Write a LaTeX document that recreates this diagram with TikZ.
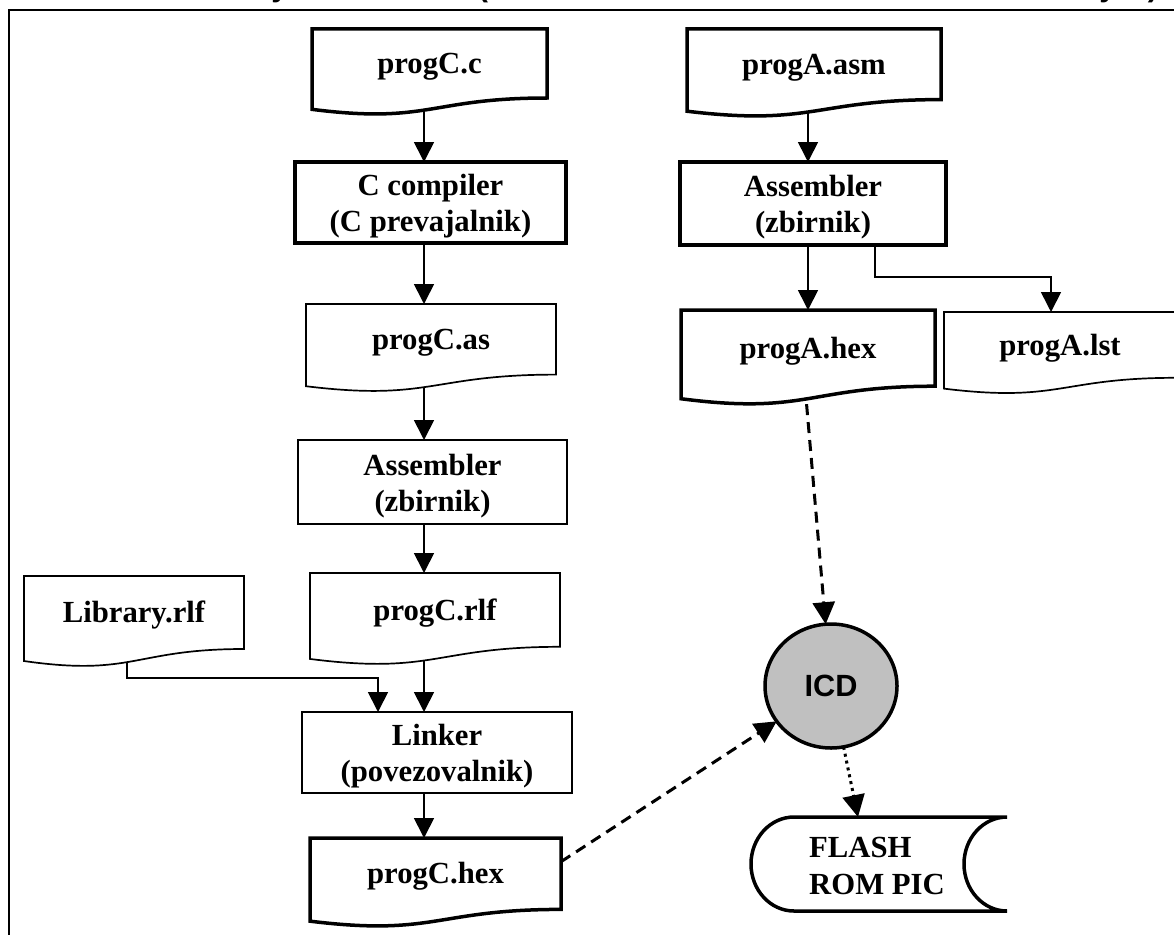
\documentclass[tikz,border=0pt]{standalone}
\usepackage{fontspec}
\setmainfont{Liberation Serif}
\newfontfamily\sansb{Liberation Sans}
\usetikzlibrary{arrows.meta,calc,shapes.geometric}
\definecolor{icdgray}{RGB}{192,192,192}
\pgfdeclarelayer{bg}
\pgfdeclarelayer{shp}
\pgfsetlayers{bg,shp,main}
\newcommand\docout[3]{%
  \draw[#2,fill=white,line join=miter] (#1.north west) -- (#1.north east) -- (#1.south east)
    .. controls (#1.south) and ($(#1.south)+(0,0.3055*#3)$) .. ($(#1.south west)+(0,0.132*#3)$) -- cycle;}
\newcommand\tallstrut{\rule{0pt}{29pt}}
\tikzset{
  lbl/.style={font=\fontsize{30.7pt}{36pt}\selectfont\bfseries},
  docnode/.style={lbl, draw=none, inner sep=0pt, outer sep=0pt, text height=20.5pt, text depth=0pt},
  proc/.style={lbl, draw, fill=white, align=center, inner sep=0pt, outer sep=0pt},
  heavy/.style={line width=3.5pt},
  light/.style={line width=1.7pt},
  arr/.style={line width=1.7pt, -{Triangle[length=20pt,width=20pt]}},
  dasharr/.style={line width=3pt, dash pattern=on 11pt off 7pt, -{Triangle[length=22pt,width=22pt]}},
  dotarr/.style={line width=3pt, dash pattern=on 3pt off 4pt, -{Triangle[length=22pt,width=22pt]}},
  frag/.style={anchor=base, inner sep=0pt, font=\sansb\bfseries\fontsize{30.7pt}{36pt}\selectfont},
}
\begin{document}
\begin{tikzpicture}[x=1pt,y=-1pt]
\useasboundingbox (0,0) rectangle (1174,934);
% frame
\draw[line width=1.8pt] (9,950) -- (9,10) -- (1190,10);
% cut-off title fragments
\node[frag] (f1) at (280,-3) {y};
\node[frag] (f2) at (483,-3) {(};
\node[frag] (f3) at (1108,-3) {y};
\node[frag] (f4) at (1153,-3) {)};

% document nodes (text part)
\node[docnode, minimum width=235pt, minimum height=69pt] (pc) at (429.5,63.5) {progC.c};
\node[docnode, minimum width=250pt, minimum height=70.6pt] (pas) at (431,339.3) {progC.as};
\node[docnode, minimum width=250pt, minimum height=73.8pt] (prlf) at (435,609.9) {progC.rlf};
\node[docnode, minimum width=220pt, minimum height=73pt] (lib) at (134,612.5) {Library.rlf};
\node[docnode, minimum width=251pt, minimum height=71.4pt] (phex) at (435.5,873.7) {progC.hex};
\node[docnode, minimum width=254pt, minimum height=70.6pt] (pasm) at (814,64.3) {progA.asm};
\node[docnode, minimum width=254pt, minimum height=76.2pt] (ahex) at (808,348.1) {progA.hex};
\node[docnode, minimum width=232pt, minimum height=65.8pt] (alst) at (1060,344.9) {progA.lst};

% process boxes
\node[proc, heavy, minimum width=271pt, minimum height=81pt] (cc) at (430.5,202.5) {\tallstrut C compiler\\(C prevajalnik)};
\node[proc, light, minimum width=269pt, minimum height=84pt] (asmL) at (432.5,482) {\tallstrut Assembler\\(zbirnik)};
\node[proc, light, minimum width=270pt, minimum height=81pt] (link) at (437,752.5) {\tallstrut Linker\\(povezovalnik)};
\node[proc, heavy, minimum width=266pt, minimum height=83pt] (asmR) at (813,203.5) {\tallstrut Assembler\\(zbirnik)};

% ICD
\node[ellipse, draw, fill=icdgray, line width=3.5pt, minimum width=132pt, minimum height=124pt,
      inner sep=0pt, outer sep=0pt, font=\sansb\bfseries\fontsize{30.7pt}{36pt}\selectfont] (icd) at (831,686) {ICD};

% stored data text
\node[lbl, anchor=west, align=left, inner sep=0pt, font=\fontsize{30.7pt}{37pt}\selectfont\bfseries] (flash) at (809,866) {FLASH\\ROM PIC};
\coordinate (flashtop) at (858,817);

% outlines of documents and storage
\begin{pgfonlayer}{shp}
\docout{pc}{heavy}{86}
\docout{pas}{light}{88}
\docout{prlf}{light}{92}
\docout{lib}{light}{91}
\docout{phex}{heavy}{89}
\docout{pasm}{heavy}{88}
\docout{ahex}{heavy}{95}
\docout{alst}{light}{82}
\draw[heavy, fill=white] (794,817) -- (1007,817)
  .. controls (983.3,817) and (964,838) .. (964,864)
  .. controls (964,890) and (983.3,911) .. (1007,911)
  -- (794,911)
  .. controls (770.3,911) and (751,890) .. (751,864)
  .. controls (751,838) and (770.3,817) .. (794,817) -- cycle;
\end{pgfonlayer}

% connectors
\coordinate (xL) at (424,0);
\coordinate (xR) at (808,0);
\coordinate (j1) at (127,678);
\coordinate (j2) at (378,678);
\coordinate (j3) at (875,277);
\coordinate (j4) at (1051,277);
\begin{pgfonlayer}{bg}
\draw[arr] (pc.south -| xL) -- (cc.north -| xL);
\draw[arr] (cc.south -| xL) -- (pas.north -| xL);
\draw[arr] (pas.south -| xL) -- (asmL.north -| xL);
\draw[arr] (asmL.south -| xL) -- (prlf.north -| xL);
\draw[arr] (prlf.south -| xL) -- (link.north -| xL);
\draw[arr] (lib.south -| j1) -- (j1) -- (j2) -- (link.north -| j2);
\draw[arr] (link.south -| xL) -- (phex.north -| xL);
\draw[arr] (pasm.south -| xR) -- (asmR.north -| xR);
\draw[arr] (asmR.south -| xR) -- (ahex.north -| xR);
\draw[arr] (asmR.south -| j3) -- (j3) -- (j4) -- (alst.north -| j4);
\draw[dasharr] ([xshift=-3pt]ahex.south) -- (icd);
\draw[dasharr] ([yshift=12pt]phex.east) -- (icd);
\draw[dotarr] (icd) -- (flashtop);
\end{pgfonlayer}
\end{tikzpicture}
\end{document}
